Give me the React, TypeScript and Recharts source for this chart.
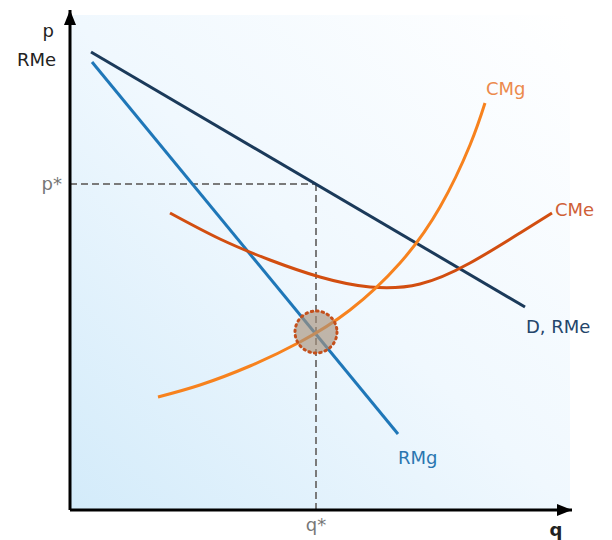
import React from 'react';
import {
  LineChart,
  Line,
  XAxis,
  YAxis,
  ReferenceLine,
  ReferenceDot,
  ReferenceArea,
} from 'recharts';

// equilibrium
const qStar = 4.92;
const pStar = 6.52;
const eqPrice = 3.56;

// demand / average revenue
const demand = [
  { q: 0.42, p: 9.16 },
  { q: 9.1, p: 4.06 },
];

// marginal revenue
const marginalRevenue = [
  { q: 0.44, p: 8.96 },
  { q: 6.56, p: 1.52 },
];

// marginal cost
const marginalCost = [
  { q: 1.76, p: 2.26 },
  { q: 2.6, p: 2.5 },
  { q: 3.6, p: 2.88 },
  { q: 4.6, p: 3.36 },
  { q: 5.6, p: 4.0 },
  { q: 6.6, p: 4.94 },
  { q: 7.4, p: 6.06 },
  { q: 8.0, p: 7.3 },
  { q: 8.3, p: 8.14 },
];

// average cost
const averageCost = [
  { q: 2.0, p: 5.94 },
  { q: 3.0, p: 5.42 },
  { q: 4.0, p: 5.0 },
  { q: 5.0, p: 4.66 },
  { q: 6.0, p: 4.46 },
  { q: 7.0, p: 4.52 },
  { q: 8.0, p: 4.94 },
  { q: 9.0, p: 5.54 },
  { q: 9.64, p: 5.94 },
];

const curveLabels = [
  { text: 'CMg', q: 8.32, p: 8.3, color: '#ec8a4c' },
  { text: 'CMe', q: 9.7, p: 5.88, color: '#cf6037' },
  { text: 'D, RMe', q: 9.12, p: 3.54, color: '#24456a' },
  { text: 'RMg', q: 6.56, p: 0.92, color: '#2a76b0' },
];

const FONT = '"DejaVu Sans", Verdana, sans-serif';

const makeText = (text: string, color: string, anchor = 'start', dx = 0, dy = 0, weight = 'normal') =>
  (props: any) => (
    <text
      x={props.cx + dx}
      y={props.cy + dy}
      fill={color}
      fontSize={18}
      fontFamily={FONT}
      fontWeight={weight}
      textAnchor={anchor}
    >
      {text}
    </text>
  );

const upArrow = (props: any) => {
  const { cx, cy } = props;
  return <polygon points={`${cx},${cy} ${cx - 6},${cy + 15} ${cx + 6},${cy + 15}`} fill="#000" />;
};

const rightArrow = (props: any) => {
  const { cx, cy } = props;
  return <polygon points={`${cx},${cy} ${cx - 15},${cy - 6} ${cx - 15},${cy + 6}`} fill="#000" />;
};

export default function App() {
  return (
    <div style={{ position: 'absolute', left: 0, top: 0, width: 612, height: 540, background: '#fff' }}>
      <LineChart width={612} height={540} margin={{ top: 10, right: 40, left: 0, bottom: 0 }}>
        <defs>
          <linearGradient id="bg" x1="0" y1="1" x2="1" y2="0">
            <stop offset="0%" stopColor="#d3ebfa" />
            <stop offset="50%" stopColor="#f0f8fe" />
            <stop offset="100%" stopColor="#ffffff" />
          </linearGradient>
        </defs>
        <XAxis
          type="number"
          dataKey="q"
          domain={[0, 10.04]}
          ticks={[qStar]}
          tickFormatter={() => 'q*'}
          allowDataOverflow
          height={30}
          axisLine={{ stroke: '#000', strokeWidth: 3 }}
          tickLine={false}
          tick={{ fill: '#777', fontSize: 18, fontFamily: FONT }}
        />
        <YAxis
          type="number"
          dataKey="p"
          domain={[0, 10]}
          ticks={[pStar]}
          tickFormatter={() => 'p*'}
          allowDataOverflow
          width={70}
          axisLine={{ stroke: '#000', strokeWidth: 3 }}
          tickLine={false}
          tick={{ fill: '#777', fontSize: 18, fontFamily: FONT }}
        />
        <ReferenceArea x1={0} x2={10} y1={0} y2={9.9} fill="url(#bg)" fillOpacity={1} stroke="none" />
        <ReferenceLine
          segment={[{ x: 0, y: pStar }, { x: qStar, y: pStar }]}
          stroke="#7a7a7a"
          strokeWidth={2}
          strokeDasharray="7 4"
        />
        <ReferenceLine
          segment={[{ x: qStar, y: pStar }, { x: qStar, y: 0 }]}
          stroke="#7a7a7a"
          strokeWidth={2}
          strokeDasharray="7 4"
        />
        <Line data={demand} dataKey="p" type="linear" stroke="#1b3a5a" strokeWidth={3} dot={false} isAnimationActive={false} />
        <Line data={marginalRevenue} dataKey="p" type="linear" stroke="#1f77b8" strokeWidth={3} dot={false} isAnimationActive={false} />
        <Line data={averageCost} dataKey="p" type="natural" stroke="#d24e10" strokeWidth={3} dot={false} isAnimationActive={false} />
        <Line data={marginalCost} dataKey="p" type="natural" stroke="#f7821e" strokeWidth={3} dot={false} isAnimationActive={false} />
        <ReferenceDot
          x={qStar}
          y={eqPrice}
          r={21}
          fill="#a8927c"
          fillOpacity={0.65}
          stroke="#c4501c"
          strokeWidth={3}
          strokeDasharray="1.5 4"
          strokeLinecap="round"
          ifOverflow="visible"
        />
        {curveLabels.map((l) => (
          <ReferenceDot key={l.text} x={l.q} y={l.p} r={0} ifOverflow="visible" shape={makeText(l.text, l.color)} />
        ))}
        <ReferenceDot x={0} y={9.46} r={0} ifOverflow="visible" shape={makeText('p', '#222', 'end', -16, 0)} />
        <ReferenceDot x={0} y={8.88} r={0} ifOverflow="visible" shape={makeText('RMe', '#222', 'end', -14, 0)} />
        <ReferenceDot x={9.72} y={0} r={0} ifOverflow="visible" shape={makeText('q', '#222', 'middle', 0, 26, 'bold')} />
        <ReferenceDot x={0} y={10} r={0} ifOverflow="visible" shape={upArrow} />
        <ReferenceDot x={10.04} y={0} r={0} ifOverflow="visible" shape={rightArrow} />
      </LineChart>
    </div>
  );
}
